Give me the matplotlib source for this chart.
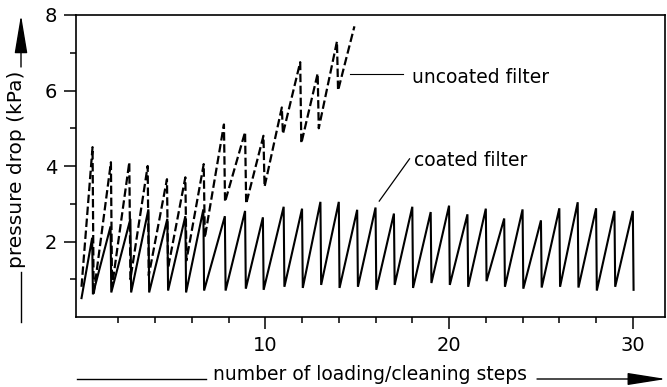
"""
pressure drop vs. number of loading/cleaning steps, coated and uncoated filter
"""
import numpy as np
import matplotlib
matplotlib.use('Agg')
import matplotlib.pyplot as plt
from matplotlib.lines import Line2D
from matplotlib.patches import FancyArrowPatch

# coated filter: peak positions (step), peak values and the low after each peak (kPa)
coated_start = (0.0, 0.5)
coated_peak_x = [0.58, 1.58, 2.66, 3.64, 4.67, 5.65, 6.63, 7.8, 8.9, 9.87,
                 11, 12, 13, 14, 15, 16, 17, 18, 19, 20,
                 21, 22, 23, 24, 25, 26, 27, 28, 29, 30]
coated_peak_y = [2.1, 2.4, 2.6, 2.85, 2.6, 2.67, 2.85, 2.67, 2.81, 2.64,
                 2.92, 2.87, 3.05, 3.05, 2.84, 2.9, 2.74, 2.92, 2.78, 2.95,
                 2.72, 2.87, 2.61, 2.85, 2.56, 2.88, 3.04, 2.88, 2.81, 2.81]
coated_low_y = [0.6, 0.65, 0.65, 0.65, 0.7, 0.65, 0.7, 0.7, 0.75, 0.72,
                0.8, 0.77, 0.85, 0.77, 0.8, 0.72, 0.85, 0.77, 0.9, 0.85,
                0.8, 0.95, 0.8, 0.75, 0.78, 0.8, 0.78, 0.7, 0.8, 0.72]

# uncoated filter
uncoated_start = (0.0, 0.8)
uncoated_peak_x = [0.6, 1.6, 2.6, 3.6, 4.65, 5.65, 6.65, 7.75, 8.9, 9.9,
                   10.9, 11.9, 12.85, 13.9]
uncoated_peak_y = [4.5, 4.1, 4.1, 4.0, 3.65, 3.7, 4.05, 5.1, 4.9, 4.8,
                   5.55, 6.75, 6.45, 7.3]
uncoated_low_y = [0.6, 0.8, 1.0, 1.1, 1.3, 1.5, 2.1, 3.05, 3.0, 3.45,
                  4.85, 4.6, 5.0, 6.0]
uncoated_end = (14.85, 7.7)

x_major = [10, 20, 30]
x_minor = [2, 4, 6, 8, 12, 14, 16, 18, 22, 24, 26, 28]
y_major = [2, 4, 6, 8]
y_minor = [1, 3, 5, 7]

W, H = 667, 387


def sawtooth(start, peak_x, peak_y, low_y, end=None, drop=0.04):
    """build the polyline: rise to each peak, then a near vertical drop"""
    xs, ys = [start[0]], [start[1]]
    for px, py, ly in zip(peak_x, peak_y, low_y):
        xs += [px, px + drop]
        ys += [py, ly]
    if end is not None:
        xs.append(end[0])
        ys.append(end[1])
    return np.array(xs), np.array(ys)


def fx(px):
    return px / W


def fy(py):
    return 1 - py / H


fig = plt.figure(figsize=(W / 100, H / 100), dpi=100)
ax = fig.add_axes([fx(76), fy(317), fx(665) - fx(76), fy(15) - fy(317)])

xc, yc = sawtooth(coated_start, coated_peak_x, coated_peak_y, coated_low_y)
xu, yu = sawtooth(uncoated_start, uncoated_peak_x, uncoated_peak_y, uncoated_low_y,
                  end=uncoated_end, drop=0.06)

ax.plot(xc, yc, color='black', lw=1.5, solid_joinstyle='miter')
ax.plot(xu, yu, color='black', lw=1.6, dashes=(3.8, 1.6))

ax.set_xlim(-0.3, 31.75)
ax.set_ylim(0, 8)

for s in ax.spines.values():
    s.set_linewidth(1.2)

ax.set_xticks(x_major)
ax.set_xticks(x_minor, minor=True)
ax.set_yticks(y_major)
ax.set_yticks(y_minor, minor=True)
ax.tick_params(which='major', direction='out', length=8.5, width=1.1,
               labelsize=14, pad=5)
ax.tick_params(which='minor', direction='out', length=4.5, width=1.1)

# annotations
ax.plot([14.6, 17.5], [6.45, 6.45], color='black', lw=0.8)
ax.text(18.0, 6.19, 'uncoated filter', fontsize=13.5, va='baseline', ha='left')
ax.plot([16.2, 17.85], [3.07, 4.19], color='black', lw=0.9)
ax.text(18.07, 4.0, 'coated filter', fontsize=13.5, va='baseline', ha='left')

# x axis label with arrow
fig.text(fx(370), fy(375), 'number of loading/cleaning steps', fontsize=13.5,
         ha='center', va='center')
fig.add_artist(Line2D([fx(77), fx(206)], [fy(379), fy(379)], color='black', lw=1.0))
fig.add_artist(FancyArrowPatch((fx(537), fy(379)), (fx(666), fy(379)),
                               transform=fig.transFigure, color='black', lw=1.0,
                               arrowstyle='-|>,head_length=2.4,head_width=0.38',
                               mutation_scale=10, shrinkA=0, shrinkB=0))

# y axis label with arrow
fig.text(fx(17), fy(169), 'pressure drop (kPa)', fontsize=14.5, rotation=90,
         ha='center', va='center')
fig.add_artist(Line2D([fx(21), fx(21)], [fy(322), fy(272)], color='black', lw=1.0))
fig.add_artist(FancyArrowPatch((fx(21), fy(67)), (fx(21), fy(15)),
                               transform=fig.transFigure, color='black', lw=1.0,
                               arrowstyle='-|>,head_length=2.4,head_width=0.4',
                               mutation_scale=10, shrinkA=0, shrinkB=0))

fig.savefig('out.png', dpi=100)
